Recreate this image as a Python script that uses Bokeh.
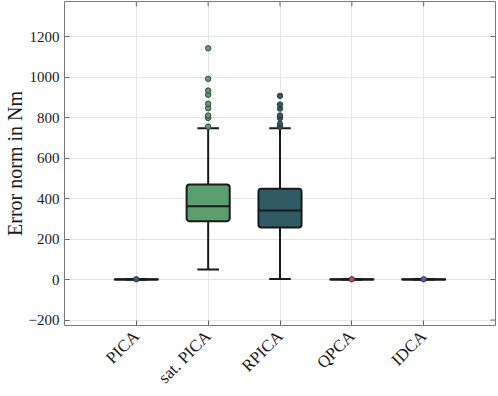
import math
from bokeh.plotting import figure
from bokeh.models import FixedTicker, Range1d, ColumnDataSource
from bokeh.embed import file_html
from bokeh.resources import INLINE

categories = ["PICA", "sat. PICA", "RPICA", "QPCA", "IDCA"]
colors = ["#3d5a89", "#5b9e6e", "#2e5b64", "#c24e4e", "#5b5fc7"]
q1 = [0.4, 288, 257, 0.4, 0.4]
median = [0.6, 362, 341, 0.6, 0.6]
q3 = [0.8, 469, 448, 0.8, 0.8]
lower = [0.2, 49, 3, 0.2, 0.2]
upper = [1.0, 747, 747, 1.0, 1.0]
outliers = [
    [1.5],
    [755, 798, 810, 846, 868, 912, 933, 991, 1142],
    [755, 769, 798, 810, 844, 864, 907],
    [1.5],
    [1.5],
]
y_ticks = [-200, 0, 200, 400, 600, 800, 1000, 1200]

FONT = "Liberation Serif"
xs = list(range(1, len(categories) + 1))
box_w = 0.6
cap_w = 0.3
X0, X1 = 0, 6
Y0, Y1 = -227, 1373

p = figure(width=498, height=396, output_backend="svg", toolbar_location=None,
           x_range=Range1d(X0, X1), y_range=Range1d(Y0, Y1),
           min_border_left=61, min_border_right=3, min_border_top=1, min_border_bottom=0)
p.background_fill_color = "white"
p.border_fill_color = "white"
p.outline_line_color = "#7a7a7a"
p.outline_line_width = 1

src = ColumnDataSource(dict(x=xs, q1=q1, med=median, q3=q3, lo=lower, hi=upper,
                            c=colors,
                            xl=[x - box_w / 2 for x in xs], xr=[x + box_w / 2 for x in xs],
                            cl=[x - cap_w / 2 for x in xs], cr=[x + cap_w / 2 for x in xs]))
p.segment(x0="x", y0="q3", x1="x", y1="hi", source=src, line_color="#1a1a1a", line_width=2)
p.segment(x0="x", y0="q1", x1="x", y1="lo", source=src, line_color="#1a1a1a", line_width=2)
p.segment(x0="cl", y0="hi", x1="cr", y1="hi", source=src, line_color="#1a1a1a", line_width=2)
p.segment(x0="cl", y0="lo", x1="cr", y1="lo", source=src, line_color="#1a1a1a", line_width=2)
p.vbar(x="x", width=box_w, bottom="q1", top="q3", source=src, fill_color="c",
       line_color="#1a1a1a", line_width=2, border_radius=3)
p.segment(x0="xl", y0="med", x1="xr", y1="med", source=src, line_color="#1a1a1a", line_width=2)

ox, oy, oc = [], [], []
for x, vals, c in zip(xs, outliers, colors):
    for v in vals:
        ox.append(x)
        oy.append(v)
        oc.append(c)
p.scatter(ox, oy, size=5.5, fill_color=oc, line_color="#2a2a2a", line_width=0.8)

# inward tick marks on the top and right frame edges (clipped to the frame)
p.scatter(xs, [Y1] * len(xs), marker="dash", angle=math.pi / 2, size=10,
          line_color="#666666", line_width=1)
p.scatter([X1] * len(y_ticks), y_ticks, marker="dash", size=10,
          line_color="#666666", line_width=1)

xt = FixedTicker(ticks=xs)
yt = FixedTicker(ticks=y_ticks)
p.xaxis.ticker = xt
p.yaxis.ticker = yt
p.xaxis.major_label_overrides = {x: c for x, c in zip(xs, categories)}
p.xaxis.major_label_orientation = math.pi / 4
p.yaxis.axis_label = "Error norm in Nm"
for ax in [p.xaxis[0], p.yaxis[0]]:
    ax.axis_line_color = None
    ax.major_tick_in = 5
    ax.major_tick_out = 0
    ax.major_tick_line_color = "#666666"
    ax.minor_tick_line_color = None
    ax.major_label_text_font = FONT
    ax.major_label_text_color = "#1a1a1a"
    ax.axis_label_text_font = FONT
    ax.axis_label_text_font_style = "normal"
    ax.axis_label_text_color = "#1a1a1a"
p.xaxis.major_label_text_font_size = "17px"
p.yaxis.major_label_text_font_size = "15px"
p.yaxis.axis_label_text_font_size = "20px"
p.xaxis.major_label_standoff = 8
p.yaxis.major_label_standoff = 5
p.yaxis.axis_label_standoff = 0

p.xgrid.ticker = xt
p.ygrid.ticker = yt
p.grid.grid_line_color = "#e6e6e6"
p.grid.grid_line_width = 1

open("out.html", "w").write(file_html(p, INLINE))
